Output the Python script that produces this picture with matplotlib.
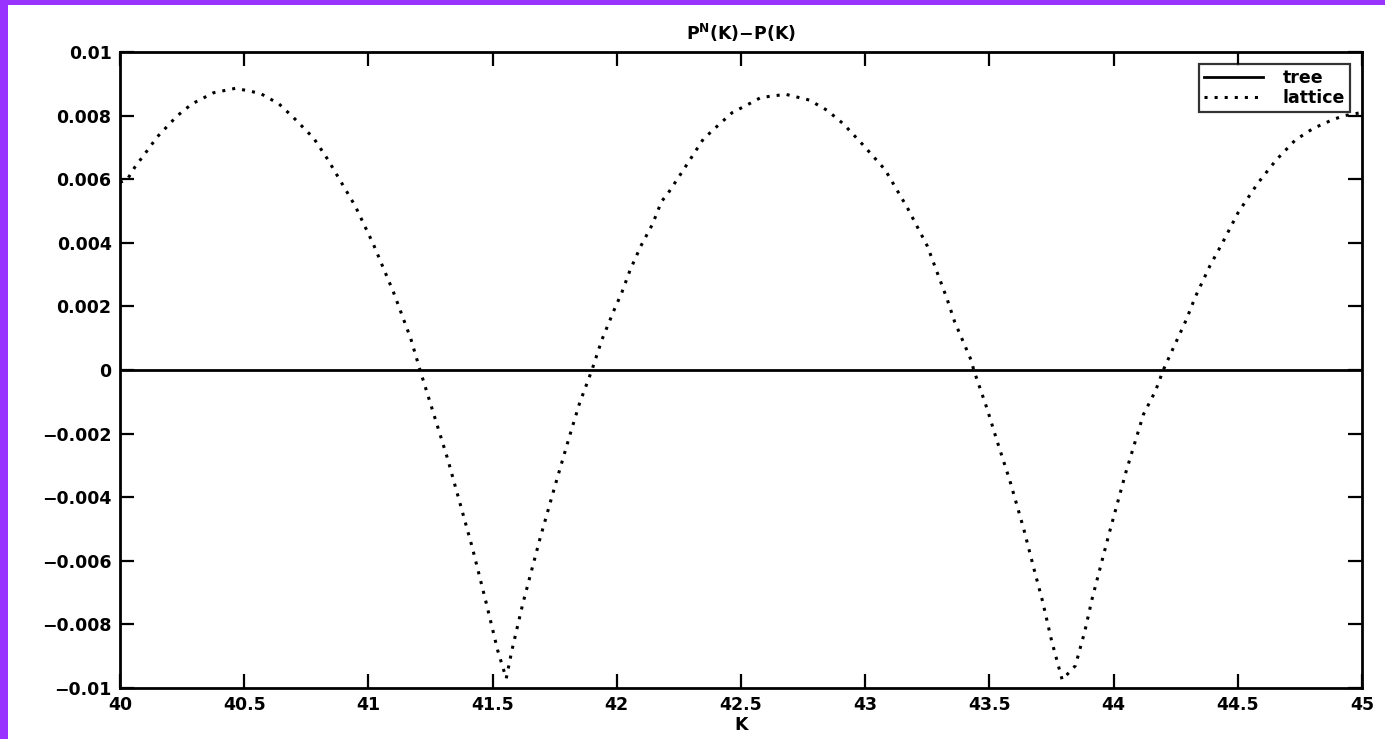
import matplotlib.pyplot as plt
from matplotlib.patches import Rectangle

plt.rcParams['font.family'] = ['DejaVu Sans']

# strike prices K and the lattice error
k_lattice = [40.00, 40.03, 40.06, 40.106, 40.15, 40.23, 40.29, 40.377, 40.466, 40.565,
             40.64, 40.696, 40.78, 40.836, 40.947, 41.02, 41.102, 41.171, 41.208,
             41.319, 41.418, 41.475, 41.52, 41.555, 41.578, 41.622, 41.691, 41.754,
             41.811, 41.85, 41.90, 41.94, 41.99, 42.02, 42.054, 42.097, 42.144, 42.18,
             42.204, 42.263, 42.349, 42.406, 42.464, 42.54, 42.58, 42.68, 42.775,
             42.846, 42.911, 42.99, 43.08, 43.17, 43.25, 43.329, 43.36, 43.427, 43.437,
             43.49, 43.53, 43.582, 43.638, 43.679, 43.715, 43.75, 43.793, 43.846,
             43.884, 43.914, 43.98, 44.05, 44.12, 44.169, 44.20, 44.232, 44.292,
             44.329, 44.388, 44.439, 44.502, 44.581, 44.654, 44.731, 44.804,
             44.884, 44.93, 45.00]
err_lattice = [0.0059, 0.0060, 0.00638, 0.00686, 0.00733, 0.00799, 0.00837, 0.00872, 0.00886, 0.0087,
               0.00837, 0.00796, 0.00729, 0.00663, 0.00516, 0.00396, 0.00243, 0.00098, 0.0,
               -0.00279, -0.00557, -0.00734, -0.0088, -0.0097, -0.00881, -0.00734, -0.0053, -0.00357,
               -0.00205, -0.00105, 0.0, 0.00095, 0.0019, 0.00243, 0.00315, 0.0039, 0.00459, 0.0053,
               0.00553, 0.00623, 0.00727, 0.00768, 0.00809, 0.0084, 0.00857, 0.00867, 0.00849,
               0.00817, 0.00775, 0.00709, 0.0063, 0.0051, 0.0039, 0.00225, 0.00152, 0.0003, 0.0,
               -0.0012, -0.00221, -0.00347, -0.00499, -0.00624, -0.0073, -0.0085, -0.00974, -0.0093,
               -0.00822, -0.00718, -0.0052, -0.0032, -0.0014, -0.00065, 0.0, 0.00055, 0.00157,
               0.0023, 0.00328, 0.00401, 0.00496, 0.00588, 0.0066, 0.00723, 0.0076,
               0.00788, 0.008, 0.0081]

k_tree = [40.0, 45.0]
err_tree = [0.0, 0.0]

xticks = [40, 40.5, 41, 41.5, 42, 42.5, 43, 43.5, 44, 44.5, 45]
xlabels = ['40', '40.5', '41', '41.5', '42', '42.5', '43', '43.5', '44', '44.5', '45']
yticks = [0.01, 0.008, 0.006, 0.004, 0.002, 0, -0.002, -0.004, -0.006, -0.008, -0.01]
ylabels = ['0.01', '0.008', '0.006', '0.004', '0.002', '0',
           '\u22120.002', '\u22120.004', '\u22120.006', '\u22120.008', '\u22120.01']

fig = plt.figure(figsize=(13.85, 7.39), dpi=100)
fig.patch.set_facecolor('white')

# purple slide border on the left and top
fig.patches.append(Rectangle((0, 0), 8 / 1385, 1, transform=fig.transFigure,
                             facecolor='#9933ff', edgecolor='none'))
fig.patches.append(Rectangle((0, 1 - 5 / 739), 1, 5 / 739, transform=fig.transFigure,
                             facecolor='#9933ff', edgecolor='none'))

ax = fig.add_axes([0.0866, 0.069, 0.8968, 0.8606])

ax.plot(k_tree, err_tree, color='black', linewidth=2, label='tree')
ax.plot(k_lattice, err_lattice, color='black', linestyle=(0, (1, 2.3)), linewidth=2.2,
        label='lattice')

ax.set_xlim(40, 45)
ax.set_ylim(-0.01, 0.01)
ax.set_xticks(xticks)
ax.set_xticklabels(xlabels)
ax.set_yticks(yticks)
ax.set_yticklabels(ylabels)
ax.tick_params(direction='in', length=10, width=1.6, top=True, right=True,
               labelsize=12.5, pad=6)
for lab in ax.get_xticklabels() + ax.get_yticklabels():
    lab.set_fontweight('bold')
for sp in ax.spines.values():
    sp.set_linewidth(2)

ax.set_title('P$^{\\mathbf{N}}$(K)\u2212P(K)', fontsize=12.5, fontweight='bold', pad=9)
ax.set_xlabel('K', fontsize=12.5, fontweight='bold', labelpad=1)

leg = ax.legend(loc='upper right', frameon=True, fancybox=False,
                handlelength=3.4, borderpad=0.3, labelspacing=0.1, handletextpad=1.1,
                prop={'weight': 'bold', 'size': 12.5}, borderaxespad=0.7)
leg.get_frame().set_edgecolor('black')
leg.get_frame().set_linewidth(1.6)

plt.savefig('out.png', dpi=100)
